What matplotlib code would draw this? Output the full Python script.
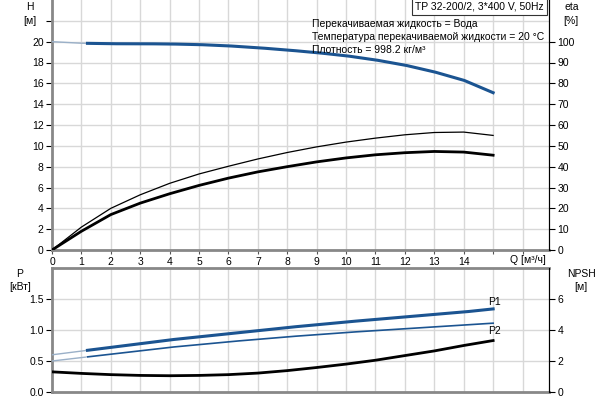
import numpy as np
import matplotlib
matplotlib.use("Agg")
from matplotlib import pyplot as plt

plt.rcParams['font.family'] = ['Liberation Sans', 'DejaVu Sans']
plt.rcParams['font.size'] = 7.5

q = [0, 1, 2, 3, 4, 5, 6, 7, 8, 9, 10, 11, 12, 13, 14, 15]
head = [20.0, 19.85, 19.8, 19.8, 19.78, 19.72, 19.6, 19.42, 19.2, 18.95, 18.65, 18.25, 17.75, 17.1, 16.3, 15.1]
eta_thick = [0, 9, 17, 22.5, 27, 31, 34.5, 37.5, 40, 42.3, 44.2, 45.7, 46.7, 47.3, 47.0, 45.5]
eta_thin = [0, 11, 20, 26.5, 32, 36.5, 40.2, 43.7, 46.8, 49.5, 51.8, 53.7, 55.3, 56.4, 56.6, 55.0]
p1 = [0.60, 0.66, 0.72, 0.78, 0.84, 0.89, 0.94, 0.99, 1.04, 1.085, 1.13, 1.17, 1.21, 1.25, 1.29, 1.34]
p2 = [0.50, 0.555, 0.61, 0.665, 0.72, 0.765, 0.81, 0.85, 0.89, 0.925, 0.96, 0.99, 1.02, 1.05, 1.08, 1.11]
npsh = [1.3, 1.2, 1.12, 1.07, 1.05, 1.07, 1.12, 1.22, 1.38, 1.58, 1.8, 2.05, 2.35, 2.65, 3.0, 3.32]

blue = '#1b5491'
light_blue = '#9ab0c8'
grid_c = '#d8d8d8'
spine_c = '#888888'

fig = plt.figure(figsize=(6, 4), dpi=100)
ax1 = fig.add_axes([52/600, 1 - 250/400, 497/600, 250/400])
ax2 = fig.add_axes([52/600, 8/400, 497/600, 124/400])

qf = np.array(q, dtype=float)

def draw(ax, y, color, lw, light, cut=1.2):
    x = np.linspace(0, 15, 200)
    yy = np.interp(x, qf, y)
    m = x <= cut
    ax.plot(x[m], yy[m], color=light, lw=1.0, zorder=3)
    ax.plot(x[x >= cut], yy[x >= cut], color=color, lw=lw, zorder=3)

for ax in (ax1, ax2):
    ax.set_xlim(0, 16.9)
    ax.set_xticks(range(0, 17))
    ax.grid(True, color=grid_c, lw=1)
    ax.set_axisbelow(True)
    for s in ('left', 'bottom'):
        ax.spines[s].set_color(spine_c)
        ax.spines[s].set_linewidth(2)
    ax.spines['right'].set_color('black')
    ax.tick_params(axis='x', length=3, color='#555555', pad=2)

# top chart
ax1.set_ylim(0, 24)
ax1.set_yticks(range(0, 24, 2))
ax1.set_yticklabels([str(v) if v <= 20 else '' for v in range(0, 24, 2)])
ax1.set_xticklabels([str(v) if v <= 14 else '' for v in range(0, 17)])
ax1.spines['top'].set_visible(False)
ax1.tick_params(axis='y', length=4, pad=2)
draw(ax1, head, blue, 2.2, light_blue)
ax1.plot(qf, np.array(eta_thin) / 5, color='black', lw=0.9, zorder=3)
ax1.plot(qf, np.array(eta_thick) / 5, color='black', lw=2.0, zorder=3)
ax1r = ax1.twinx()
ax1r.set_ylim(0, 120)
ax1r.set_yticks(range(0, 110, 10))
ax1r.tick_params(axis='y', length=4, pad=2)
for s in ax1r.spines.values():
    s.set_visible(False)
ax1r.spines['right'].set_visible(True)
ax1r.spines['right'].set_color('black')

ax1.text(-0.045, 0.99, 'H\n[м]', transform=ax1.transAxes, ha='center', va='top', linespacing=1.4)
ax1r.text(1.045, 0.99, 'eta\n[%]', transform=ax1.transAxes, ha='center', va='top', linespacing=1.4)
ax1.text(16.2, -0.5, 'Q [м³/ч]', ha='center', va='top')
ax1.text(0.99, 0.995, 'TP 32-200/2, 3*400 V, 50Hz', transform=ax1.transAxes, ha='right', va='top',
         bbox=dict(facecolor='white', edgecolor='#333333', lw=0.8, pad=2.5))
ax1.text(8.85, 20.45, 'Перекачиваемая жидкость = Вода\n'
         'Температура перекачиваемой жидкости = 20 °C\n'
         'Плотность = 998.2 кг/м³', va='center', ha='left', linespacing=1.35)

# bottom chart
ax2.set_ylim(0, 2.0)
ax2.set_yticks([0, 0.5, 1.0, 1.5])
ax2.set_yticklabels(['0.0', '0.5', '1.0', '1.5'])
ax2.set_xticklabels([])
ax2.tick_params(axis='x', length=0)
ax2.tick_params(axis='y', length=4, pad=2)
ax2.spines['top'].set_color(spine_c)
ax2.spines['top'].set_linewidth(2)
draw(ax2, p1, blue, 2.2, light_blue)
draw(ax2, p2, blue, 1.2, light_blue)
ax2.plot(qf, np.array(npsh) / 4, color='black', lw=2.0, zorder=3)
ax2.text(15.05, 1.37, 'P1', ha='center', va='bottom')
ax2.text(15.05, 1.07, 'P2', ha='center', va='top')
ax2r = ax2.twinx()
ax2r.set_ylim(0, 8)
ax2r.set_yticks([0, 2, 4, 6])
ax2r.tick_params(axis='y', length=4, pad=2)
for s in ax2r.spines.values():
    s.set_visible(False)
ax2r.spines['right'].set_visible(True)
ax2r.spines['right'].set_color('black')
ax2.text(-0.065, 0.99, 'P\n[кВт]', transform=ax2.transAxes, ha='center', va='top', linespacing=1.4)
ax2.text(1.065, 0.99, 'NPSH\n[м]', transform=ax2.transAxes, ha='center', va='top', linespacing=1.4)

fig.savefig('out.png', dpi=100)
